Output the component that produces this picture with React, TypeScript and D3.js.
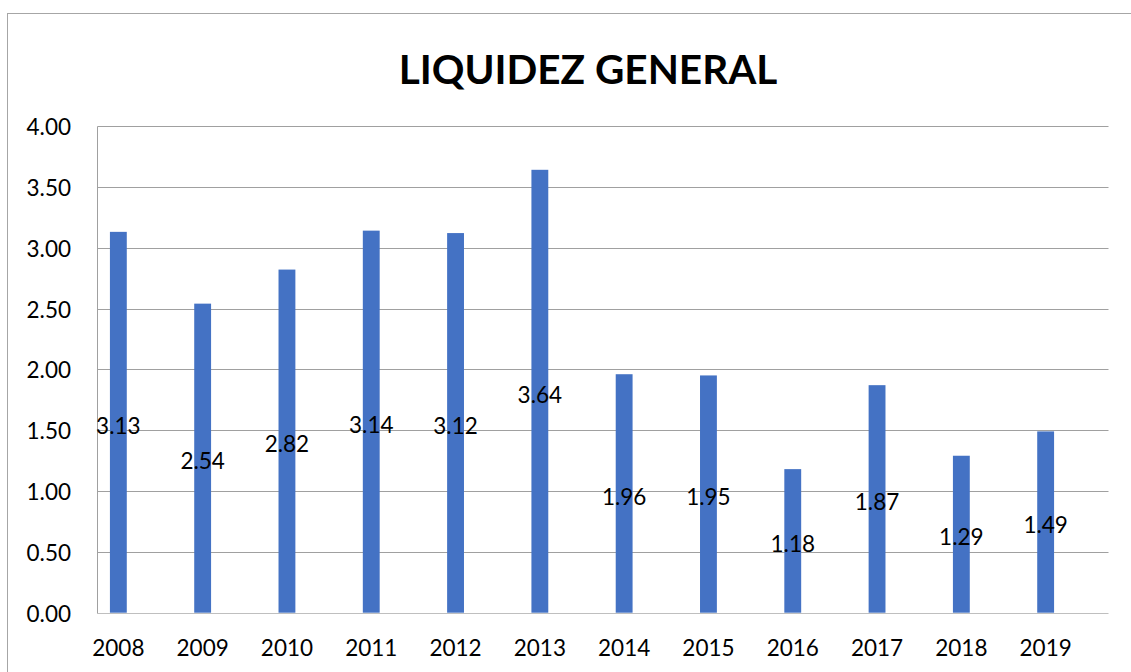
import React, { useRef, useEffect } from 'react';
import * as d3 from 'd3';

const years = ['2008', '2009', '2010', '2011', '2012', '2013', '2014', '2015', '2016', '2017', '2018', '2019'];
const liquidez = [3.13, 2.54, 2.82, 3.14, 3.12, 3.64, 1.96, 1.95, 1.18, 1.87, 1.29, 1.49];
const yTicks = [0, 0.5, 1, 1.5, 2, 2.5, 3, 3.5, 4];
const title = 'LIQUIDEZ GENERAL';

function App() {
    const chartRef = useRef<SVGSVGElement | null>(null);

    useEffect(() => {
        const width = 1131;
        const height = 672;
        const plotLeft = 97.5;
        const plotRight = 1108.5;
        const plotTop = 126;
        const plotBottom = 612.7;
        const font = 'Lato, "Open Sans", sans-serif';
        const fontSize = 22.5;

        const svg = d3.select(chartRef.current);
        svg.selectAll('*').remove();

        // outer chart frame (runs off the right/bottom edge like the source)
        svg.append('rect')
            .attr('x', 7.5)
            .attr('y', 13.5)
            .attr('width', width + 20)
            .attr('height', height + 20)
            .attr('fill', '#fff')
            .attr('stroke', '#a6a6a6')
            .attr('stroke-width', 1);

        const y = d3.scaleLinear().domain([0, 4]).range([plotBottom, plotTop]);

        // categories are shifted left inside the plot area
        const x = d3.scaleBand()
            .domain(years)
            .range([76.2, 1087.8])
            .paddingInner(0.8)
            .paddingOuter(0.4);

        svg.append('text')
            .attr('x', 588)
            .attr('y', 84)
            .attr('text-anchor', 'middle')
            .attr('font-family', font)
            .attr('font-weight', 'bold')
            .attr('font-size', 40.5)
            .attr('fill', '#000')
            .text(title);

        // gridlines
        svg.selectAll('.grid')
            .data(yTicks)
            .enter()
            .append('line')
            .attr('class', 'grid')
            .attr('x1', plotLeft)
            .attr('x2', plotRight)
            .attr('y1', (d) => Math.round(y(d)) + 0.5)
            .attr('y2', (d) => Math.round(y(d)) + 0.5)
            .attr('stroke', (d) => (d === 0 ? '#bfbfbf' : '#a0a0a0'))
            .attr('stroke-width', 1);

        svg.append('line')
            .attr('x1', plotLeft)
            .attr('x2', plotLeft)
            .attr('y1', Math.round(y(4)) + 0.5)
            .attr('y2', Math.round(y(0)) + 0.5)
            .attr('stroke', '#a0a0a0')
            .attr('stroke-width', 1);

        // y tick labels
        svg.selectAll('.ytick')
            .data(yTicks)
            .enter()
            .append('text')
            .attr('class', 'ytick')
            .attr('x', 71)
            .attr('y', (d) => y(d))
            .attr('dy', '0.4em')
            .attr('text-anchor', 'end')
            .attr('font-family', font)
            .attr('font-size', fontSize)
            .attr('fill', '#000')
            .text((d) => d3.format('.2f')(d));

        // bars
        svg.selectAll('.bar')
            .data(liquidez)
            .enter()
            .append('rect')
            .attr('class', 'bar')
            .attr('x', (d, i) => x(years[i])!)
            .attr('y', (d) => y(d))
            .attr('width', x.bandwidth())
            .attr('height', (d) => y(0) - y(d))
            .attr('fill', '#4472C4');

        // data labels at the middle of each bar
        svg.selectAll('.label')
            .data(liquidez)
            .enter()
            .append('text')
            .attr('class', 'label')
            .attr('x', (d, i) => x(years[i])! + x.bandwidth() / 2)
            .attr('y', (d) => y(d / 2))
            .attr('dy', '0.5em')
            .attr('text-anchor', 'middle')
            .attr('font-family', font)
            .attr('font-size', fontSize)
            .attr('fill', '#000')
            .text((d) => d3.format('.2f')(d));

        // x labels
        svg.selectAll('.xtick')
            .data(years)
            .enter()
            .append('text')
            .attr('class', 'xtick')
            .attr('x', (d) => x(d)! + x.bandwidth() / 2)
            .attr('y', 655.5)
            .attr('text-anchor', 'middle')
            .attr('font-family', font)
            .attr('font-size', fontSize)
            .attr('fill', '#000')
            .text((d) => d);
    }, []);

    return (
        <svg
            ref={chartRef}
            width={1131}
            height={672}
            style={{ position: 'absolute', left: 0, top: 0, background: '#fff' }}
        />
    );
}

export default App;
